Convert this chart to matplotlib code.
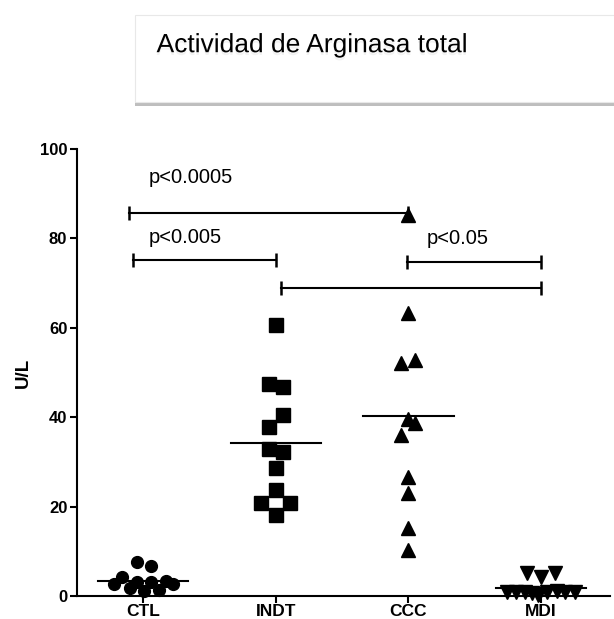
import numpy as np
import matplotlib.pyplot as plt
import matplotlib.patheffects as pe
from matplotlib.patches import FancyBboxPatch

plt.rcParams['font.family'] = ['Liberation Sans', 'DejaVu Sans']

groups = ['CTL', 'INDT', 'CCC', 'MDI']
markers = ['o', 's', '^', 'v']

ctl = [7.7, 6.6, 4.3, 2.7, 3.2, 1.7, 1.2, 3.1, 1.3, 3.4, 2.6]
indt = [60.6, 47.4, 46.7, 40.5, 37.7, 32.8, 32.1, 28.7, 23.7, 20.9, 20.9, 18.2]
ccc = [85.3, 63.2, 52.1, 52.8, 39.7, 38.6, 36.0, 26.6, 23.0, 15.1, 10.3]
mdi = [5.1, 5.1, 4.2, 1.0, 0.8, 1.0, 0.7, 0.5, 0.9, 1.1, 0.9, 1.0, 0.2]

# horizontal scatter of the points (category units)
ctl_dx = [-0.05, 0.058, -0.158, -0.219, -0.05, -0.103, 0.008, 0.058, 0.115, 0.173, 0.224]
indt_dx = [0, -0.05, 0.05, 0.05, -0.05, -0.05, 0.05, 0, 0, -0.11, 0.105, 0]
ccc_dx = [0, 0, -0.053, 0.053, 0, 0.053, -0.053, 0, 0, 0, 0]
mdi_dx = [-0.105, 0.108, 0, -0.256, -0.189, -0.124, -0.068, -0.013, 0.045, 0.121, 0.183, 0.259, -0.02]

# comparisons: (from, to, height)
brackets = [(-0.11, 2.0, 85.7), (-0.08, 1.0, 75.2), (1.04, 3.0, 68.8), (1.99, 3.0, 74.8)]
p_labels = ['p<0.0005', 'p<0.005', 'p<0.05']
p_label_x = [0.04, 0.04, 2.14]
p_label_y = [93.7, 80.2, 80.0]

data = [ctl, indt, ccc, mdi]
offsets = [ctl_dx, indt_dx, ccc_dx, mdi_dx]

fig = plt.figure(figsize=(6.14, 6.19), dpi=100)
ax = fig.add_axes([0.1254, 0.0372, 0.8681, 0.7221])

for i, (vals, dx, m) in enumerate(zip(data, offsets, markers)):
    x = i + np.array(dx)
    ax.plot(x, vals, linestyle='none', marker=m, color='black',
            markersize=8.5 if m == 'o' else 10.3, clip_on=False, zorder=3)
    mean = np.mean(vals)
    ax.plot([i - 0.34, i + 0.34], [mean, mean], color='black', lw=1.5, zorder=4)

for x0, x1, h in brackets:
    ax.plot([x0, x1], [h, h], color='black', lw=1.5)
    ax.plot([x0, x1], [h, h], linestyle='none', marker='|', color='black',
            markersize=10, markeredgewidth=1.8)
for lab, lx, ly in zip(p_labels, p_label_x, p_label_y):
    ax.text(lx, ly, lab, fontsize=14.5, va='center', ha='left')

ax.set_xlim(-0.5, 3.52)
ax.set_ylim(0, 100)
ax.set_xticks(range(len(groups)))
ax.set_xticklabels(groups, fontweight='bold', fontsize=12.5)
ax.set_yticks([0, 20, 40, 60, 80, 100])
ax.set_yticklabels(['0', '20', '40', '60', '80', '100'], fontweight='bold', fontsize=12)
ax.set_ylabel('U/L', fontweight='bold', fontsize=13.5, labelpad=6)
for s in ['top', 'right']:
    ax.spines[s].set_visible(False)
for s in ['left', 'bottom']:
    ax.spines[s].set_linewidth(1.5)
ax.tick_params(width=1.5, length=5, pad=2)
ax.tick_params(axis='x', pad=1)

# title box with shadow
box = FancyBboxPatch((0.22, 0.835), 0.82, 0.141, boxstyle='square,pad=0',
                     transform=fig.transFigure, facecolor='white',
                     edgecolor='#e8e8e8', lw=0.8,
                     path_effects=[pe.withSimplePatchShadow(offset=(0, -3), shadow_rgbFace='#8a8a8a', alpha=0.55)])
fig.add_artist(box)
fig.text(0.255, 0.927, 'Actividad de Arginasa total', fontsize=19, va='center', ha='left',
         path_effects=[pe.withSimplePatchShadow(offset=(0, -2), shadow_rgbFace='#aaaaaa', alpha=0.15)])

fig.savefig('out.png', dpi=100)
